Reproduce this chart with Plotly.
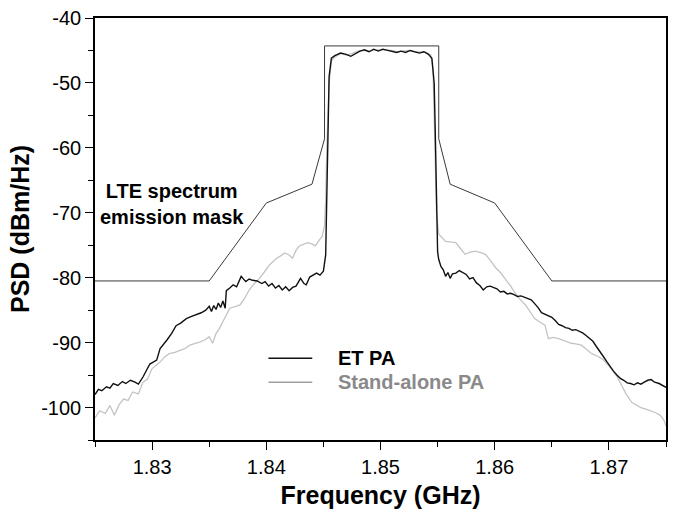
import plotly.graph_objects as go

# ---------------- data ----------------
mask_f = [1.825, 1.835, 1.840, 1.844, 1.8451, 1.8451, 1.8551, 1.8551, 1.8561, 1.8600, 1.865, 1.875]
mask_psd = [-80.5, -80.5, -68.5, -65.6, -58.6, -44.3, -44.3, -58.6, -65.6, -68.5, -80.5, -80.5]

et_f = [1.8250, 1.8253, 1.8256, 1.8260, 1.8263, 1.8266, 1.8270, 1.8274, 1.8277, 1.8281,
        1.8285, 1.8288, 1.8292, 1.8295, 1.8298, 1.8301, 1.8304, 1.8307, 1.8310, 1.8313,
        1.8317, 1.8321, 1.8325, 1.8330, 1.8334, 1.8339, 1.8343, 1.8347, 1.8350, 1.8352,
        1.8354, 1.8356, 1.8358, 1.8360, 1.8362, 1.8364, 1.8365, 1.8368, 1.8371, 1.8374,
        1.8378, 1.8382, 1.8385, 1.8388, 1.8392, 1.8396, 1.8399, 1.8402, 1.8405, 1.8408,
        1.8411, 1.8414, 1.8417, 1.8420, 1.8423, 1.8426, 1.8430, 1.8433, 1.8435, 1.8438,
        1.8441, 1.8444, 1.8447, 1.8450, 1.8452, 1.8453, 1.8454, 1.8455, 1.8457, 1.8460,
        1.8465, 1.8470, 1.8474, 1.8478, 1.8482, 1.8486, 1.8490, 1.8494, 1.8498, 1.8502,
        1.8506, 1.8510, 1.8514, 1.8518, 1.8522, 1.8526, 1.8530, 1.8534, 1.8538, 1.8542,
        1.8545, 1.8547, 1.8548, 1.8549, 1.8550, 1.8551, 1.8553, 1.8555, 1.8557, 1.8559,
        1.8561, 1.8563, 1.8566, 1.8569, 1.8572, 1.8575, 1.8578, 1.8581, 1.8584, 1.8587,
        1.8590, 1.8593, 1.8596, 1.8599, 1.8602, 1.8605, 1.8608, 1.8611, 1.8614, 1.8617,
        1.8620, 1.8623, 1.8626, 1.8629, 1.8632, 1.8635, 1.8638, 1.8641, 1.8644, 1.8647,
        1.8650, 1.8653, 1.8656, 1.8659, 1.8662, 1.8665, 1.8668, 1.8671, 1.8674, 1.8677,
        1.8680, 1.8683, 1.8686, 1.8689, 1.8692, 1.8695, 1.8698, 1.8701, 1.8704, 1.8707,
        1.8710, 1.8713, 1.8716, 1.8719, 1.8722, 1.8725, 1.8728, 1.8731, 1.8734, 1.8737,
        1.8740, 1.8744, 1.8747, 1.8750]
et_psd = [-98.0, -97.2, -97.4, -96.8, -97.0, -96.3, -96.6, -96.0, -96.3, -95.8,
          -96.1, -96.4, -95.3, -94.3, -93.3, -93.0, -92.7, -90.9, -90.3, -89.6,
          -88.6, -87.4, -87.0, -86.3, -86.0, -85.7, -85.4, -85.0, -84.4, -85.2,
          -84.3, -84.9, -83.9, -84.6, -83.6, -84.7, -82.0, -81.6, -81.1, -81.4,
          -79.8, -80.6, -80.2, -80.4, -80.5, -80.9, -80.6, -81.3, -80.9, -81.6,
          -81.2, -81.9, -81.4, -82.0, -81.5, -81.3, -80.1, -80.9, -81.1, -79.9,
          -79.6, -79.3, -79.6, -79.0, -76.5, -66.0, -56.0, -49.0, -46.2, -45.8,
          -45.4, -45.6, -45.9, -45.5, -45.1, -44.9, -45.2, -44.8, -45.1, -44.8,
          -45.0, -45.1, -45.3, -45.1, -45.3, -45.0, -45.2, -45.4, -45.2, -45.6,
          -46.2, -50.0, -58.0, -68.0, -76.0, -77.2, -78.3, -78.8, -79.8, -79.2,
          -80.1, -79.4, -79.3, -78.9, -79.2, -79.5, -80.2, -80.0, -80.8, -81.2,
          -81.9, -81.4, -81.3, -81.5, -81.7, -82.2, -82.1, -82.5, -82.4, -82.6,
          -82.9, -82.8, -83.0, -83.3, -83.4, -84.0, -84.6, -85.4, -85.6, -85.9,
          -86.1, -86.6, -87.2, -87.4, -87.7, -87.8, -88.1, -88.0, -88.2, -88.5,
          -88.9, -89.3, -89.8, -90.6, -91.3, -92.1, -92.9, -93.7, -94.4, -95.0,
          -95.5, -95.8, -96.2, -96.3, -96.5, -96.2, -96.4, -96.1, -95.8, -95.7,
          -96.1, -96.3, -96.6, -96.9]

sa_f = [1.8250, 1.8254, 1.8259, 1.8263, 1.8267, 1.8271, 1.8275, 1.8279, 1.8283, 1.8288,
        1.8292, 1.8296, 1.8300, 1.8303, 1.8307, 1.8311, 1.8315, 1.8320, 1.8324, 1.8329,
        1.8333, 1.8337, 1.8342, 1.8346, 1.8350, 1.8353, 1.8356, 1.8359, 1.8363, 1.8366,
        1.8368, 1.8372, 1.8377, 1.8381, 1.8385, 1.8389, 1.8394, 1.8398, 1.8403, 1.8406,
        1.8409, 1.8413, 1.8416, 1.8420, 1.8423, 1.8426, 1.8429, 1.8432, 1.8436, 1.8440,
        1.8443, 1.8446, 1.8449, 1.8451, 1.8452, 1.8453, 1.8455, 1.8457, 1.8460, 1.8465,
        1.8470, 1.8475, 1.8480, 1.8485, 1.8490, 1.8495, 1.8500, 1.8505, 1.8510, 1.8515,
        1.8520, 1.8525, 1.8530, 1.8535, 1.8540, 1.8544, 1.8546, 1.8547, 1.8548, 1.8549,
        1.8551, 1.8554, 1.8557, 1.8561, 1.8566, 1.8570, 1.8574, 1.8578, 1.8583, 1.8587,
        1.8592, 1.8596, 1.8601, 1.8605, 1.8609, 1.8614, 1.8618, 1.8622, 1.8627, 1.8631,
        1.8635, 1.8640, 1.8644, 1.8647, 1.8651, 1.8656, 1.8661, 1.8667, 1.8671, 1.8676,
        1.8680, 1.8685, 1.8690, 1.8694, 1.8698, 1.8702, 1.8707, 1.8711, 1.8715, 1.8720,
        1.8724, 1.8728, 1.8733, 1.8737, 1.8741, 1.8745, 1.8748, 1.8750]
sa_psd = [-101.6, -100.5, -100.9, -99.7, -101.2, -99.6, -98.7, -98.9, -97.6, -97.9,
          -96.1, -95.6, -94.0, -93.6, -93.0, -92.2, -91.7, -91.5, -91.2, -90.9,
          -90.4, -90.2, -89.9, -89.6, -89.1, -90.1, -88.6, -87.8, -86.5, -85.4,
          -84.7, -84.5, -84.2, -83.2, -81.9, -81.0, -80.1, -79.2, -78.0, -77.5,
          -77.0, -76.6, -76.2, -76.5, -77.0, -75.8, -75.1, -74.9, -74.6, -74.8,
          -75.1, -74.3, -73.6, -72.0, -68.0, -60.0, -50.0, -46.6, -46.0, -45.5,
          -45.7, -45.5, -45.1, -45.0, -45.1, -44.9, -44.9, -45.0, -45.0, -45.2,
          -45.1, -45.0, -45.2, -45.2, -45.3, -45.7, -48.0, -55.0, -63.0, -70.0,
          -73.3, -73.9, -74.4, -74.5, -74.6, -75.5, -76.4, -76.1, -75.9, -76.1,
          -76.4, -77.3, -78.5, -79.2, -80.1, -81.3, -82.4, -83.3, -84.2, -85.2,
          -86.3, -86.9, -87.3, -89.4, -89.2, -89.4, -89.7, -90.1, -90.2, -90.4,
          -91.0, -91.7, -92.1, -92.5, -93.2, -94.0, -95.2, -96.6, -97.9, -99.2,
          -99.6, -100.0, -100.3, -100.5, -100.8, -101.2, -101.9, -102.8]

x_ticks = [1.83, 1.84, 1.85, 1.86, 1.87]
x_ticklabels = ["1.83", "1.84", "1.85", "1.86", "1.87"]
y_ticks = [-100, -90, -80, -70, -60, -50, -40]
y_ticklabels = ["-100", "-90", "-80", "-70", "-60", "-50", "-40"]

FONT = "Liberation Sans, Arial, sans-serif"

fig = go.Figure()
fig.add_trace(go.Scatter(x=sa_f, y=sa_psd, mode="lines", name="Stand-alone PA",
                         line=dict(color="#c4c4c4", width=1.3), showlegend=False))
fig.add_trace(go.Scatter(x=et_f, y=et_psd, mode="lines", name="ET PA",
                         line=dict(color="#111111", width=1.4), showlegend=False))
fig.add_trace(go.Scatter(x=mask_f, y=mask_psd, mode="lines", name="LTE spectrum emission mask",
                         line=dict(color="#3a3a3a", width=1), showlegend=False))

# LTE mask label
fig.add_annotation(x=1.8317, y=-68.6, xref="x", yref="y", showarrow=False,
                   text="<b>LTE spectrum<br>emission mask</b>", align="center",
                   font=dict(family=FONT, size=20, color="#000000"))

# manual legend
legend_items = [("ET PA", "#111111", "#000000", 0.1936),
                ("Stand-alone PA", "#a0a0a0", "#8a8a8a", 0.1367)]
for label, lcol, tcol, ypos in legend_items:
    fig.add_shape(type="line", xref="paper", yref="paper", x0=0.3037, x1=0.3805,
                  y0=ypos, y1=ypos, line=dict(color=lcol, width=1.6))
    fig.add_annotation(x=0.4223, y=ypos, xref="paper", yref="paper", showarrow=False,
                       xanchor="left", yanchor="middle", text="<b>%s</b>" % label,
                       font=dict(family=FONT, size=20, color=tcol))

axis_common = dict(showline=True, linecolor="#000000", linewidth=1.6, mirror=True,
                   ticks="outside", ticklen=8, tickwidth=1.4, tickcolor="#000000",
                   showgrid=False, zeroline=False,
                   tickfont=dict(family=FONT, size=20, color="#000000"))

fig.update_xaxes(range=[1.825, 1.875], tickvals=x_ticks, ticktext=x_ticklabels,
                 minor=dict(dtick=0.005, tick0=1.825, ticks="outside", ticklen=5,
                            tickwidth=1.4, tickcolor="#000000"),
                 title=dict(text="<b>Frequency (GHz)</b>", standoff=10,
                            font=dict(family=FONT, size=25, color="#000000")),
                 **axis_common)
fig.update_yaxes(range=[-105, -40], tickvals=y_ticks, ticktext=y_ticklabels,
                 minor=dict(dtick=5, tick0=-105, ticks="outside", ticklen=5,
                            tickwidth=1.4, tickcolor="#000000"),
                 title=dict(text="<b>PSD (dBm/Hz)</b>", standoff=4,
                            font=dict(family=FONT, size=25, color="#000000")),
                 **axis_common)

fig.update_layout(width=674, height=512, margin=dict(l=95, r=6, t=18, b=72),
                  paper_bgcolor="#ffffff", plot_bgcolor="#ffffff",
                  font=dict(family=FONT))

fig.write_html("out.html")
